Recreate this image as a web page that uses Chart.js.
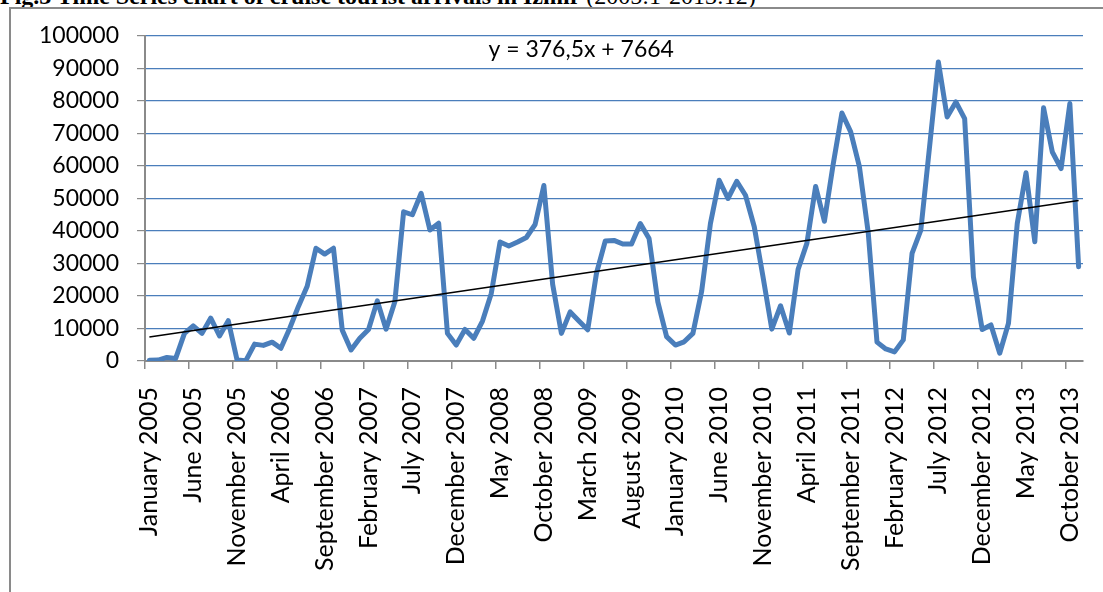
<!DOCTYPE html>
<html><head><meta charset="utf-8">
<script src="https://cdn.jsdelivr.net/npm/chart.js@4.4.1/dist/chart.umd.min.js"></script>
<style>
html,body{margin:0;padding:0;background:#fff;width:1103px;height:592px;overflow:hidden;}
#wrap{position:relative;width:1103px;height:592px;overflow:hidden;}
#frame{position:absolute;left:9px;top:7px;width:1200px;height:700px;border:2px solid #8a8a8a;box-sizing:border-box;}
#title{position:absolute;left:0;top:-16px;font-family:"Liberation Serif",serif;font-size:24px;line-height:24px;white-space:nowrap;color:#000;}
canvas{position:absolute;left:0;top:0;}
</style></head>
<body><div id="wrap"><div id="title"><b>Fig.3 Time Series chart of cruise tourist arrivals in Izmir</b> (2005:1-2013:12)</div><div id="frame"></div><canvas id="c" width="1103" height="592"></canvas></div>
<script>
// ---- data ----
const monthNames = ['January','February','March','April','May','June','July','August','September','October','November','December'];
const years = [2005, 2006, 2007, 2008, 2009, 2010, 2011, 2012, 2013];
const monthCount = 107; // January 2005 .. November 2013
const arrivals = [
  200, 300, 1100, 800, 8500, 10800, 8500, 13200, 7700, 12400, 300, 100,
  5200, 4800, 5800, 3900, 10000, 16800, 23000, 34700, 32900, 34700, 9500, 3400,
  7000, 9700, 18500, 9800, 18200, 45900, 45000, 51600, 40300, 42400, 8500, 4900,
  9700, 7000, 12300, 20800, 36600, 35400, 36600, 38000, 42000, 54000, 23600, 8500,
  15100, 12300, 9600, 27000, 36900, 37100, 36000, 36000, 42300, 37700, 18200, 7500,
  4900, 5900, 8500, 21500, 42300, 55600, 50000, 55300, 51000, 41300, 25900, 9800,
  17000, 8600, 28200, 36200, 53700, 43000, 60500, 76300, 70500, 59700, 39500, 5800,
  3700, 2800, 6500, 33100, 40300, 66000, 92000, 75100, 79700, 74600, 25900, 9700,
  11100, 2400, 11600, 42300, 57900, 36700, 77900, 64300, 59200, 79200, 29000
];
const trendStart = 7400;   // trendline value at first month
const trendEnd = 49400;    // trendline value at last month
const trendLabel = 'y = 376,5x + 7664';
const yTicks = [0, 10000, 20000, 30000, 40000, 50000, 60000, 70000, 80000, 90000, 100000];
const labelEvery = 5;

// ---- build ----
const categories = [];
for (let i = 0; i < monthCount; i++) {
  categories.push(monthNames[i % 12] + ' ' + years[Math.floor(i / 12)]);
}
const trendData = categories.map((_, i) => i === 0 ? trendStart : (i === monthCount - 1 ? trendEnd : null));

const AXIS_GRAY = '#8a8a8a';
const BLUE = '#4a7ebb';

const equationPlugin = {
  id: 'equation',
  afterDraw(chart) {
    const {ctx, chartArea} = chart;
    ctx.save();
    ctx.font = '23px Lato';
    ctx.fillStyle = '#000';
    ctx.textAlign = 'center';
    ctx.textBaseline = 'middle';
    ctx.fillText(trendLabel, chartArea.left + 0.465 * (chartArea.right - chartArea.left), chartArea.top + 14);
    ctx.restore();
  }
};

new Chart(document.getElementById('c'), {
  type: 'line',
  data: {
    labels: categories,
    datasets: [
      {
        label: 'Linear trend',
        data: trendData,
        spanGaps: true,
        borderColor: '#000',
        borderWidth: 1.6,
        pointRadius: 0,
        tension: 0
      },
      {
        label: 'Cruise tourist arrivals',
        data: arrivals,
        borderColor: BLUE,
        borderWidth: 5,
        pointRadius: 0,
        tension: 0,
        borderJoinStyle: 'round',
        borderCapStyle: 'round'
      }
    ]
  },
  options: {
    responsive: false,
    animation: false,
    devicePixelRatio: 1,
    layout: {padding: {top: 36, right: 20, left: 0, bottom: 0}},
    plugins: {legend: {display: false}, tooltip: {enabled: false}, title: {display: false}},
    scales: {
      x: {
        type: 'category',
        offset: true,
        afterFit(scale) { scale.height = 231; scale.paddingRight = 0; scale.paddingLeft = 0; },
        grid: {
          offset: true,
          drawOnChartArea: false,
          drawTicks: true,
          tickLength: 8,
          lineWidth: 1.5,
          color: ctx => (ctx.index !== undefined && ctx.index % labelEvery === 0) ? AXIS_GRAY : 'rgba(0,0,0,0)'
        },
        border: {display: true, color: AXIS_GRAY, width: 2},
        ticks: {
          autoSkip: false,
          maxRotation: 90,
          minRotation: 90,
          padding: 18,
          color: '#000',
          font: {family: 'Lato', size: 25},
          callback: function (value, index) {
            return index % labelEvery === 0 ? this.getLabelForValue(value) : '';
          }
        }
      },
      y: {
        min: yTicks[0],
        max: yTicks[yTicks.length - 1],
        afterFit(scale) { scale.width = 145; },
        afterBuildTicks(scale) { scale.ticks = yTicks.map(v => ({value: v})); },
        grid: {
          color: BLUE,
          lineWidth: 1.2,
          tickColor: AXIS_GRAY,
          tickLength: 8,
          drawTicks: true
        },
        border: {display: true, color: AXIS_GRAY, width: 2},
        ticks: {
          padding: 18,
          color: '#000',
          font: {family: 'Lato', size: 23},
          callback: v => String(v)
        }
      }
    }
  },
  plugins: [equationPlugin]
});
</script>
</body></html>
